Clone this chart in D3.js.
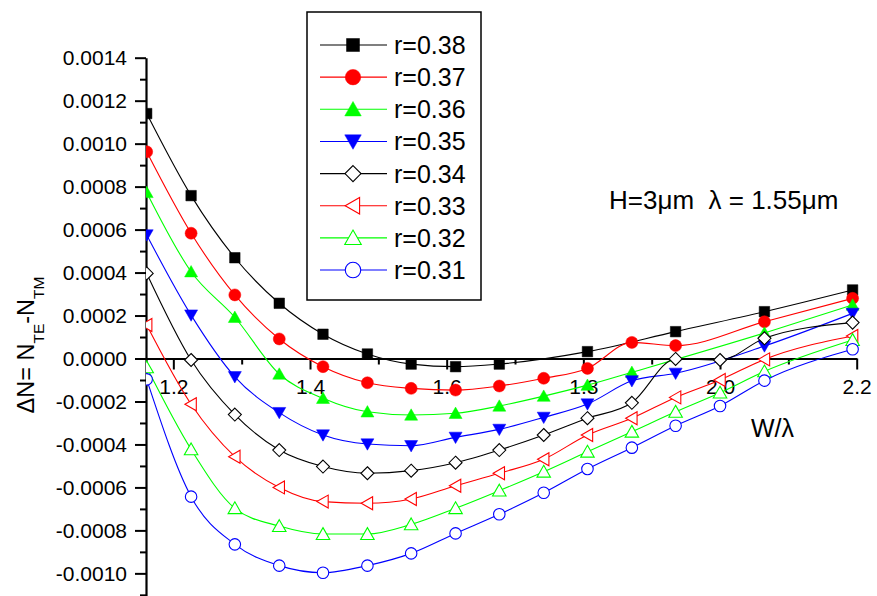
<!DOCTYPE html>
<html>
<head>
<meta charset="utf-8">
<script src="https://cdn.jsdelivr.net/npm/d3@7"></script>
<style>
  body { margin: 0; background: #fff; }
  svg { display: block; font-family: "Liberation Sans", Arial, sans-serif; }
</style>
</head>
<body>
<div id="chart"></div>
<script>
// W/lambda values (W = 1.8 ... 3.4 um, lambda = 1.55 um)
const xValues = [1.161, 1.226, 1.290, 1.355, 1.419, 1.484, 1.548, 1.613, 1.677, 1.742, 1.806, 1.871, 1.935, 2.000, 2.065, 2.194];

// delta N for each r (null = no point at that W)
const r38 = [0.00114, 0.000758, 0.000469, 0.000257, 0.000113, 0.000021, -0.000026, -0.000038, -0.000026, null, 0.000032, null, 0.000125, null, 0.000218, 0.000319];
const r37 = [0.000962, 0.000583, 0.000296, 0.000091, -0.000038, -0.000113, -0.000139, -0.000147, -0.000128, -0.000092, -0.000046, 0.000075, 0.00006, null, 0.000171, 0.00028];
const r36 = [0.000773, 0.000404, 0.000192, -0.000072, -0.000185, -0.000248, -0.000263, -0.000255, -0.000221, -0.000175, -0.000124, -0.000064, null, null, 0.000119, 0.000249];
const r35 = [0.000575, 0.000202, -0.000085, -0.000252, -0.000356, -0.000398, -0.000406, -0.000367, -0.00033, -0.000274, -0.000212, -0.000104, -0.000069, null, 0.000058, 0.00021];
const r34 = [0.000396, -0.000007, -0.000261, -0.000426, -0.000503, -0.000534, -0.000522, -0.000485, -0.000426, -0.000356, -0.000278, -0.000206, -0.000002, -0.000007, 0.000094, 0.000167];
const r33 = [0.000156, -0.000213, -0.000457, -0.0006, -0.000666, -0.000674, -0.000654, -0.000592, -0.000534, -0.000469, -0.000356, -0.000278, -0.000181, -0.0001, -0.000004, 0.000105];
const r32 = [-0.000041, -0.000423, -0.000697, -0.00078, -0.000817, -0.000817, -0.000772, -0.000697, -0.000615, -0.000527, -0.000434, -0.000341, -0.000248, -0.000159, -0.00006, 0.000086];
const r31 = [-0.000097, -0.000643, -0.000865, -0.000964, -0.000997, -0.000964, -0.000907, -0.000814, -0.000725, -0.000625, -0.000514, -0.000415, -0.000313, -0.000221, -0.000103, 0.000043];

const seriesNames = ["r=0.38", "r=0.37", "r=0.36", "r=0.35", "r=0.34", "r=0.33", "r=0.32", "r=0.31"];
const seriesValues = [r38, r37, r36, r35, r34, r33, r32, r31];
const seriesColors = ["#000000", "#ff0000", "#00ff00", "#0000ff", "#000000", "#ff0000", "#00ff00", "#0000ff"];
const seriesSymbols = ["square", "circle", "up", "down", "diamond", "left", "up", "circle"];
const seriesFilled = [true, true, true, true, false, false, false, false];

const xTicksMajor = [1.2, 1.4, 1.6, 1.8, 2.0, 2.2];
const xTicksMinor = [1.3, 1.5, 1.7, 1.9, 2.1];
const xTickLabels = ["1.2", "1.4", "1.6", "1.8", "2.0", "2.2"];
const yTicksMajor = [-0.0010, -0.0008, -0.0006, -0.0004, -0.0002, 0, 0.0002, 0.0004, 0.0006, 0.0008, 0.0010, 0.0012, 0.0014];
const yTicksMinor = [-0.0011, -0.0009, -0.0007, -0.0005, -0.0003, -0.0001, 0.0001, 0.0003, 0.0005, 0.0007, 0.0009, 0.0011, 0.0013];

// Dimensions
const W = 877, H = 596;
const margin = { top: 57.7, left: 146 };
const width = 710.7;
const height = 597 - margin.top;

const svg = d3.select("#chart")
    .append("svg")
    .attr("width", W)
    .attr("height", H);

const g = svg.append("g")
    .attr("transform", "translate(" + margin.left + "," + margin.top + ")");

// Scales
const xScale = d3.scaleLinear().domain([1.16, 2.2]).range([0, width]);
const yScale = d3.scaleLinear().domain([-0.00111, 0.0014]).range([height, 0]);

// Y axis
const yAxis = g.append("g")
    .call(d3.axisLeft(yScale).tickValues(yTicksMajor).tickSize(11).tickSizeOuter(0).tickPadding(8)
        .tickFormat(d => (Math.abs(d) < 1e-12 ? 0 : d).toFixed(4)));
yAxis.select(".domain").attr("stroke-width", 2.2);
yAxis.selectAll(".tick line").attr("stroke-width", 2);
yAxis.selectAll("text").attr("font-size", 21).attr("fill", "#000");

const yMinor = g.append("g")
    .call(d3.axisLeft(yScale).tickValues(yTicksMinor).tickSize(6).tickFormat(""));
yMinor.select(".domain").remove();
yMinor.selectAll(".tick line").attr("stroke-width", 2);

// X axis at y = 0
const xAxis = g.append("g")
    .attr("transform", "translate(0," + yScale(0) + ")")
    .call(d3.axisBottom(xScale).tickValues(xTicksMajor).tickSize(11).tickSizeOuter(0).tickPadding(10)
        .tickFormat((d, i) => xTickLabels[i]));
xAxis.select(".domain").attr("stroke-width", 2.2);
xAxis.selectAll(".tick line").attr("stroke-width", 2);
xAxis.selectAll("text").attr("font-size", 21).attr("fill", "#000");

const xMinor = g.append("g")
    .attr("transform", "translate(0," + yScale(0) + ")")
    .call(d3.axisBottom(xScale).tickValues(xTicksMinor).tickSize(6).tickFormat(""));
xMinor.select(".domain").remove();
xMinor.selectAll(".tick line").attr("stroke-width", 2);

// Marker shapes centred on (0,0)
function markerPath(type, s) {
    const h = s / 2;
    if (type === "square") return `M${-h},${-h}H${h}V${h}H${-h}Z`;
    if (type === "circle") return `M${h},0A${h},${h} 0 1,1 ${-h},0A${h},${h} 0 1,1 ${h},0Z`;
    if (type === "up") return `M0,${-h * 0.95}L${h},${h * 0.8}L${-h},${h * 0.8}Z`;
    if (type === "down") return `M0,${h * 0.95}L${h},${-h * 0.8}L${-h},${-h * 0.8}Z`;
    if (type === "diamond") return `M0,${-h}L${h},0L0,${h}L${-h},0Z`;
    if (type === "left") return `M${-h * 0.95},0L${h * 0.8},${-h}L${h * 0.8},${h}Z`;
    return "";
}
const plotSize = { square: 10.5, circle: 12, up: 13, down: 13, diamond: 13, left: 13 };
const plotSizeOpen = { up: 13.5, circle: 11.5 };
const legendSize = { square: 13, circle: 15.5, up: 16.5, down: 16.5, diamond: 16, left: 16.5 };

// Clip the data to the right of the y axis
svg.append("clipPath").attr("id", "plotclip")
    .append("rect").attr("x", 0).attr("y", -margin.top).attr("width", W - margin.left).attr("height", H);

const plot = g.append("g").attr("clip-path", "url(#plotclip)");

const line = d3.line()
    .x(d => xScale(d[0]))
    .y(d => yScale(d[1]))
    .curve(d3.curveMonotoneX);

seriesValues.forEach((vals, i) => {
    const pts = xValues.map((x, j) => [x, vals[j]]).filter(d => d[1] !== null);
    const col = seriesColors[i];
    const sym = seriesSymbols[i];
    const size = (!seriesFilled[i] && plotSizeOpen[sym]) ? plotSizeOpen[sym] : plotSize[sym];

    plot.append("path")
        .datum(pts)
        .attr("fill", "none")
        .attr("stroke", col)
        .attr("stroke-width", 1.1)
        .attr("d", line);

    plot.selectAll(".m" + i)
        .data(pts)
        .enter().append("path")
        .attr("class", "m" + i)
        .attr("transform", d => "translate(" + xScale(d[0]) + "," + yScale(d[1]) + ")")
        .attr("d", markerPath(sym, size))
        .attr("fill", seriesFilled[i] ? col : "#fff")
        .attr("stroke", col)
        .attr("stroke-width", seriesFilled[i] ? 0.5 : 1.1);
});

// Axis titles
svg.append("text")
    .attr("transform", "translate(34,345) rotate(-90)")
    .attr("text-anchor", "middle")
    .attr("font-size", 23.5)
    .attr("fill", "#000")
    .call(t => {
        t.append("tspan").text("\u0394N= N");
        t.append("tspan").attr("font-size", 15.5).attr("dy", 10).text("TE");
        t.append("tspan").attr("dy", -10).text("-N");
        t.append("tspan").attr("font-size", 15.5).attr("dy", 10).text("TM");
    });

svg.append("text")
    .attr("x", 751)
    .attr("y", 437)
    .attr("font-size", 25)
    .attr("fill", "#000")
    .text("W/\u03bb");

svg.append("text")
    .attr("x", 609)
    .attr("y", 209)
    .attr("font-size", 26)
    .attr("fill", "#000")
    .style("white-space", "pre")
    .text("H=3\u03bcm  \u03bb = 1.55\u03bcm");

// Legend
const legend = svg.append("g");
legend.append("rect")
    .attr("x", 307)
    .attr("y", 12)
    .attr("width", 174)
    .attr("height", 288)
    .attr("fill", "#fff")
    .attr("stroke", "#000")
    .attr("stroke-width", 1.5);

seriesNames.forEach((name, i) => {
    const yRow = 45 + i * 32.15;
    const col = seriesColors[i];
    legend.append("line")
        .attr("x1", 320).attr("x2", 387)
        .attr("y1", yRow).attr("y2", yRow)
        .attr("stroke", col)
        .attr("stroke-width", 1.1);
    legend.append("path")
        .attr("transform", "translate(353," + yRow + ")")
        .attr("d", markerPath(seriesSymbols[i], legendSize[seriesSymbols[i]]))
        .attr("fill", seriesFilled[i] ? col : "#fff")
        .attr("stroke", col)
        .attr("stroke-width", seriesFilled[i] ? 0.5 : 1.1);
    legend.append("text")
        .attr("x", 394)
        .attr("y", yRow + 9)
        .attr("font-size", 25)
        .attr("fill", "#000")
        .text(name);
});
</script>
</body>
</html>
